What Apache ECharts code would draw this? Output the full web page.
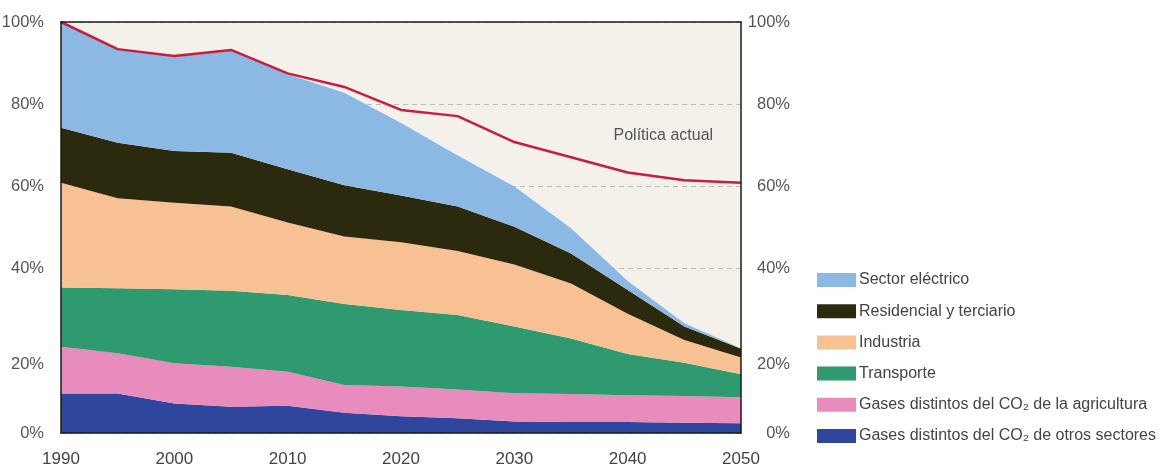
<!DOCTYPE html>
<html>
<head>
<meta charset="utf-8">
<script src="https://cdn.jsdelivr.net/npm/echarts@6/dist/echarts.min.js"></script>
<style>
html,body{margin:0;padding:0;background:#fff;}
#c{width:1162px;height:468px;}
</style>
</head>
<body>
<div id="c"></div>
<script>
var years = ['1990','1995','2000','2005','2010','2015','2020','2025','2030','2035','2040','2045','2050'];
var otrosSectores = [9.6,9.6,7.2,6.4,6.6,4.9,4.1,3.6,2.8,2.7,2.7,2.5,2.4];
var agricultura   = [11.4,9.8,9.8,9.7,8.3,6.8,7.2,7.0,6.9,6.8,6.5,6.5,6.3];
var transporte    = [14.4,15.8,18.0,18.5,18.7,19.7,18.6,18.1,16.2,13.5,10.0,8.1,5.6];
var industria     = [25.5,21.9,21.0,20.5,17.6,16.4,16.5,15.6,15.1,13.4,9.8,5.5,4.1];
var residencial   = [13.4,13.5,12.6,13.1,13.0,12.5,11.4,10.8,9.2,7.3,5.8,3.3,2.1];
var electrico     = [25.7,22.8,23.1,25.0,23.1,22.5,17.6,12.4,9.8,6.1,2.2,0.8,0.1];
var politicaActual = [100,93.4,91.7,93.2,87.5,84.2,78.6,77.1,70.8,67.1,63.4,61.5,60.9];
var yTicks = [0,20,40,60,80,100];
var seriesNames = ['Gases distintos del CO₂ de otros sectores','Gases distintos del CO₂ de la agricultura','Transporte','Industria','Residencial y terciario','Sector eléctrico'];
var annotationText = 'Política actual';

var FONT = "'Liberation Sans','Arial',sans-serif";

var layerData = [otrosSectores, agricultura, transporte, industria, residencial, electrico];
var layerColors = ['#2e469e','#e88bbd','#2f9a6f','#f8c194','#2c2a0e','#8cb9e4'];

var series = layerData.map(function(d,i){
  return {
    name:seriesNames[i], type:'line', stack:'total', data:d,
    symbol:'none', lineStyle:{width:0}, itemStyle:{color:layerColors[i]},
    areaStyle:{color:layerColors[i], opacity:1}, emphasis:{disabled:true}, z:2
  };
});
series.push({
  name:annotationText, type:'line', data:politicaActual,
  symbol:'none', lineStyle:{width:2.5, color:'#c81d3f'}, itemStyle:{color:'#c81d3f'},
  emphasis:{disabled:true}, z:5,
  markPoint:{
    symbol:'circle', symbolSize:0, silent:true,
    data:[{coord:['2045', 72.4]}],
    label:{show:true, position:'inside', offset:[-21,0], formatter:annotationText, color:'#555', fontSize:16, fontFamily:FONT}
  }
});

function yLabel(v){ return v===20 ? '{low|20%}' : '{n|' + v + '%}'; }
var yRich = {
  n:{color:'#555', fontSize:16.5, fontFamily:FONT},
  low:{color:'#555', fontSize:16.5, fontFamily:FONT, padding:[28,0,0,0]}
};
var borderLine = {show:true, onZero:false, lineStyle:{color:'#1a1a1a', width:1.5}};

var chart = echarts.init(document.getElementById('c'), null, {renderer:'canvas'});
chart.setOption({
  animation:false,
  backgroundColor:'#ffffff',
  grid:{left:61, right:421, top:22, bottom:35, outerBoundsMode:'none', containLabel:false,
        show:true, backgroundColor:'#f3f1ea', borderColor:'#1a1a1a', borderWidth:0},
  legend:{
    orient:'vertical', left:817, top:272, padding:0, itemWidth:39, itemHeight:14, itemGap:15.2,
    icon:'rect', selectedMode:false,
    data:seriesNames.slice().reverse(),
    textStyle:{color:'#444', fontSize:16, fontFamily:FONT, padding:[0,0,0,-2]}
  },
  xAxis:[
    {type:'category', data:years, boundaryGap:false, position:'bottom', z:10,
     axisLine:borderLine, axisTick:{show:false}, splitLine:{show:false},
     axisLabel:{color:'#444', fontSize:17, fontFamily:FONT, margin:18, interval:1}},
    {type:'category', data:years, boundaryGap:false, position:'top', z:10,
     axisLine:borderLine, axisTick:{show:false}, splitLine:{show:false}, axisLabel:{show:false}}
  ],
  yAxis:[
    {type:'value', min:0, max:100, interval:20, position:'left', z:10,
     axisLine:borderLine, axisTick:{show:false}, splitLine:{show:false},
     axisLabel:{formatter:yLabel, rich:yRich, margin:17, align:'right'}},
    {type:'value', min:0, max:100, interval:20, position:'right', z:10,
     axisLine:borderLine, axisTick:{show:false}, splitLine:{show:false},
     axisLabel:{formatter:yLabel, rich:yRich, margin:49, align:'right'}},
    {type:'value', min:0, max:100, interval:20, position:'left', offset:0, z:0,
     axisLine:{show:false}, axisTick:{show:false}, axisLabel:{show:false},
     splitLine:{show:true, lineStyle:{type:[5,4], color:'#bdbdb8', width:1}}}
  ],
  series:series
});
</script>
</body>
</html>
